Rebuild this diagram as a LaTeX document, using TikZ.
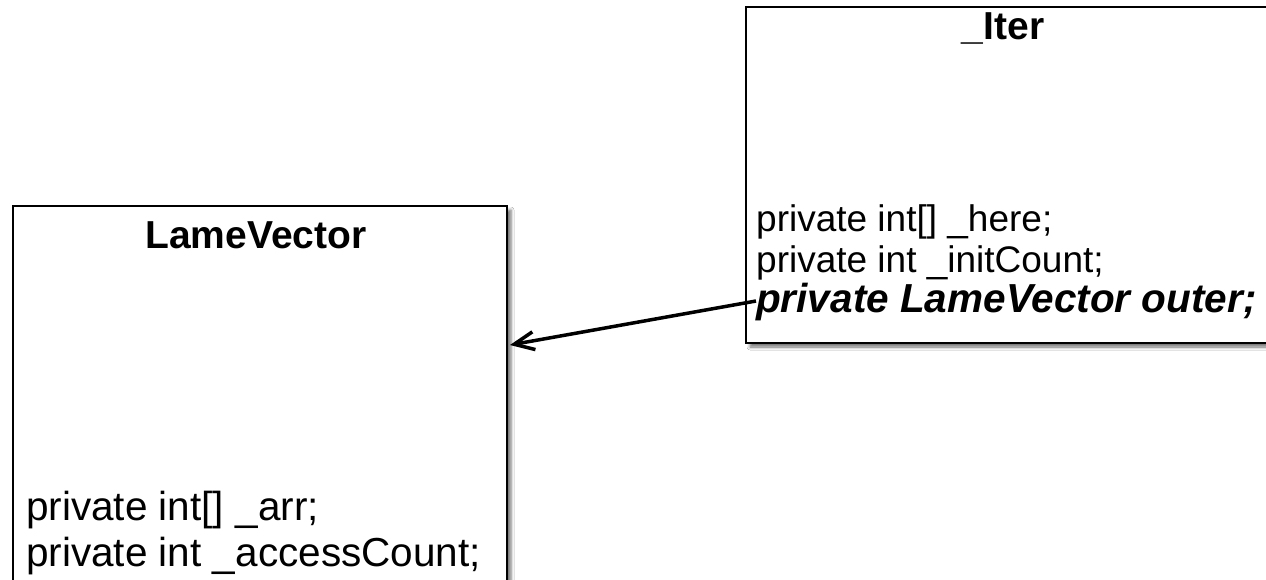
\documentclass[tikz,border=0pt]{standalone}
\usepackage{fontspec}
\setmainfont{Liberation Sans}
\usetikzlibrary{arrows.meta,shadows.blur}
\begin{document}
\begin{tikzpicture}[x=1pt,y=-1pt,
  umlbox/.style={draw=black, line width=2pt, fill=white, rectangle, inner sep=0pt,
    blur shadow={shadow xshift=4pt, shadow yshift=-4pt, shadow blur radius=3pt, shadow opacity=55}},
  classtitle/.style={font=\fontsize{39}{44}\selectfont\bfseries, inner sep=0pt, anchor=base},
  attr/.style={inner sep=0pt, anchor=base west},
  assoc/.style={line width=3.5pt, -{Straight Barb[length=20pt,width=18pt,line width=3.5pt]}}]
\useasboundingbox (0,0) rectangle (1266,580);
\clip (0,0) rectangle (1266,580);
\fill[white] (0,0) rectangle (1266,580);
% LameVector box
\node (lv) [umlbox, minimum width=494pt, minimum height=420pt, anchor=north west] at (12,205) {};
\node (lvt) [classtitle] at (256,248) {LameVector};
\node (lva) [attr, font=\fontsize{40.5}{46}\selectfont] at (26,520) {private int[] \_arr;};
\node (lvb) [attr, font=\fontsize{40.5}{46}\selectfont] at (26,566) {private int \_accessCount;};
% _Iter box
\node (it) [umlbox, minimum width=540pt, minimum height=336pt, anchor=north west] at (745,6) {};
\node (itt) [classtitle] at (1003,40) {\_Iter};
\node (ita) [attr, font=\fontsize{37}{42}\selectfont] at (756,232) {private int[] \_here;};
\node (itb) [attr, font=\fontsize{37}{42}\selectfont] at (756,272) {private int \_initCount;};
\node (itc) [attr, font=\fontsize{40.5}{46}\selectfont\bfseries\itshape] at (756,312) {private LameVector outer;};
% association
\coordinate (src) at (756,301);
\coordinate (dst) at (510,345);
\draw[assoc] (src) -- (dst);
\end{tikzpicture}
\end{document}
